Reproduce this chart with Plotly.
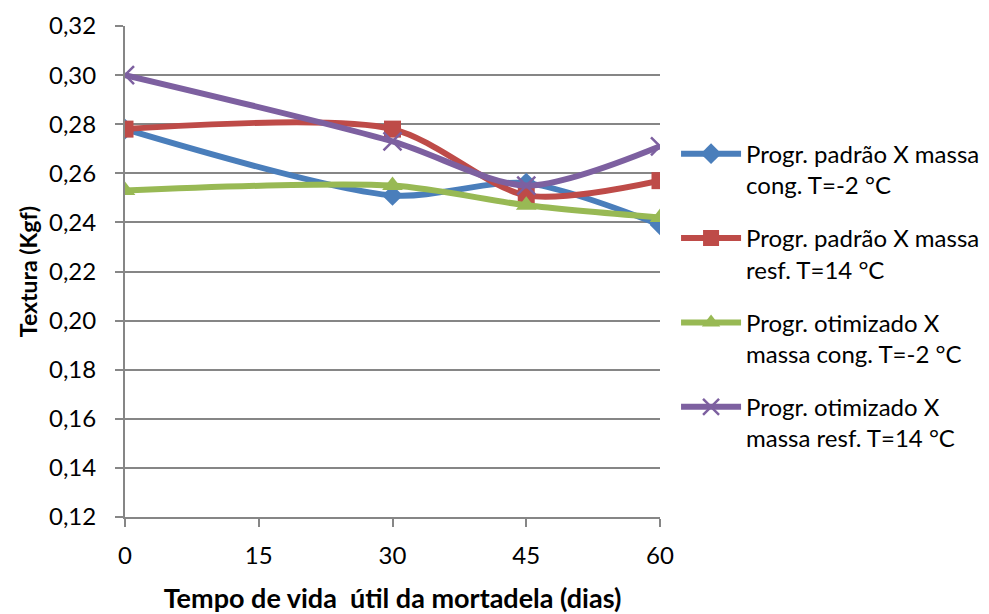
import plotly.graph_objects as go

# Shelf-life days and texture measurements (Kgf)
dias = [0, 30, 45, 60]

padrao_cong = [0.278, 0.251, 0.256, 0.239]
padrao_resf = [0.278, 0.278, 0.251, 0.257]
otim_cong = [0.253, 0.255, 0.247, 0.242]
otim_resf = [0.300, 0.273, 0.255, 0.271]

nomes = [
    "Progr. padrão X massa<br>cong. T=-2 °C",
    "Progr. padrão X massa<br>resf. T=14 °C",
    "Progr. otimizado X<br>massa cong. T=-2 °C",
    "Progr. otimizado X<br>massa resf. T=14 °C",
]

y_ticks = [0.12, 0.14, 0.16, 0.18, 0.20, 0.22, 0.24, 0.26, 0.28, 0.30, 0.32]
y_tick_labels = [f"{v:.2f}".replace(".", ",") for v in y_ticks]
x_ticks = [0, 15, 30, 45, 60]

series = [
    (padrao_cong, "#4A7EBB", dict(symbol="diamond", size=16)),
    (padrao_resf, "#BE4B48", dict(symbol="square", size=17)),
    (otim_cong, "#98B954", dict(symbol="triangle-up", size=18)),
    (otim_resf, "#7D60A0", dict(symbol="x-thin-open", size=18, line=dict(width=2.5))),
]

fig = go.Figure()
for i, (vals, cor, mk) in enumerate(series):
    mk = dict(mk)
    mk["color"] = cor
    if "line" in mk:
        mk["line"]["color"] = cor
    fig.add_trace(go.Scatter(
        x=dias, y=vals, name=nomes[i], legendgroup=f"g{i}",
        mode="lines+markers",
        line=dict(color=cor, width=6, shape="spline", smoothing=0.8),
        marker=mk,
    ))

font = "Lato, 'Open Sans', sans-serif"
fig.update_layout(
    width=989, height=614,
    margin=dict(l=125, r=329, t=26, b=97, autoexpand=False),
    paper_bgcolor="white", plot_bgcolor="white",
    font=dict(family=font, size=24, color="black"),
    showlegend=True,
    legend=dict(
        x=1.03, y=0.785, xanchor="left", yanchor="top",
        font=dict(size=24), valign="top", tracegroupgap=19,
        itemwidth=60, bgcolor="rgba(0,0,0,0)",
    ),
    xaxis=dict(
        range=[0, 60], tickvals=x_ticks, showgrid=False, zeroline=False,
        showline=True, linecolor="#868686", linewidth=2,
        ticks="outside", ticklen=8, tickcolor="#868686", tickwidth=2,
        tickfont=dict(size=24), ticklabelstandoff=8,
        title=dict(text="<b>Tempo de vida  útil da mortadela (dias)</b>",
                   font=dict(size=27), standoff=22),
    ),
    yaxis=dict(
        range=[0.12, 0.32], tickvals=y_ticks, ticktext=y_tick_labels,
        showgrid=True, gridcolor="#868686", gridwidth=2, zeroline=False,
        showline=True, linecolor="#868686", linewidth=2,
        ticks="outside", ticklen=8, tickcolor="#868686", tickwidth=2,
        tickfont=dict(size=24), ticklabelstandoff=14,
        title=dict(text="<b>Textura (Kgf)</b>", font=dict(size=23), standoff=5),
    ),
)

fig.write_html("out.html")
